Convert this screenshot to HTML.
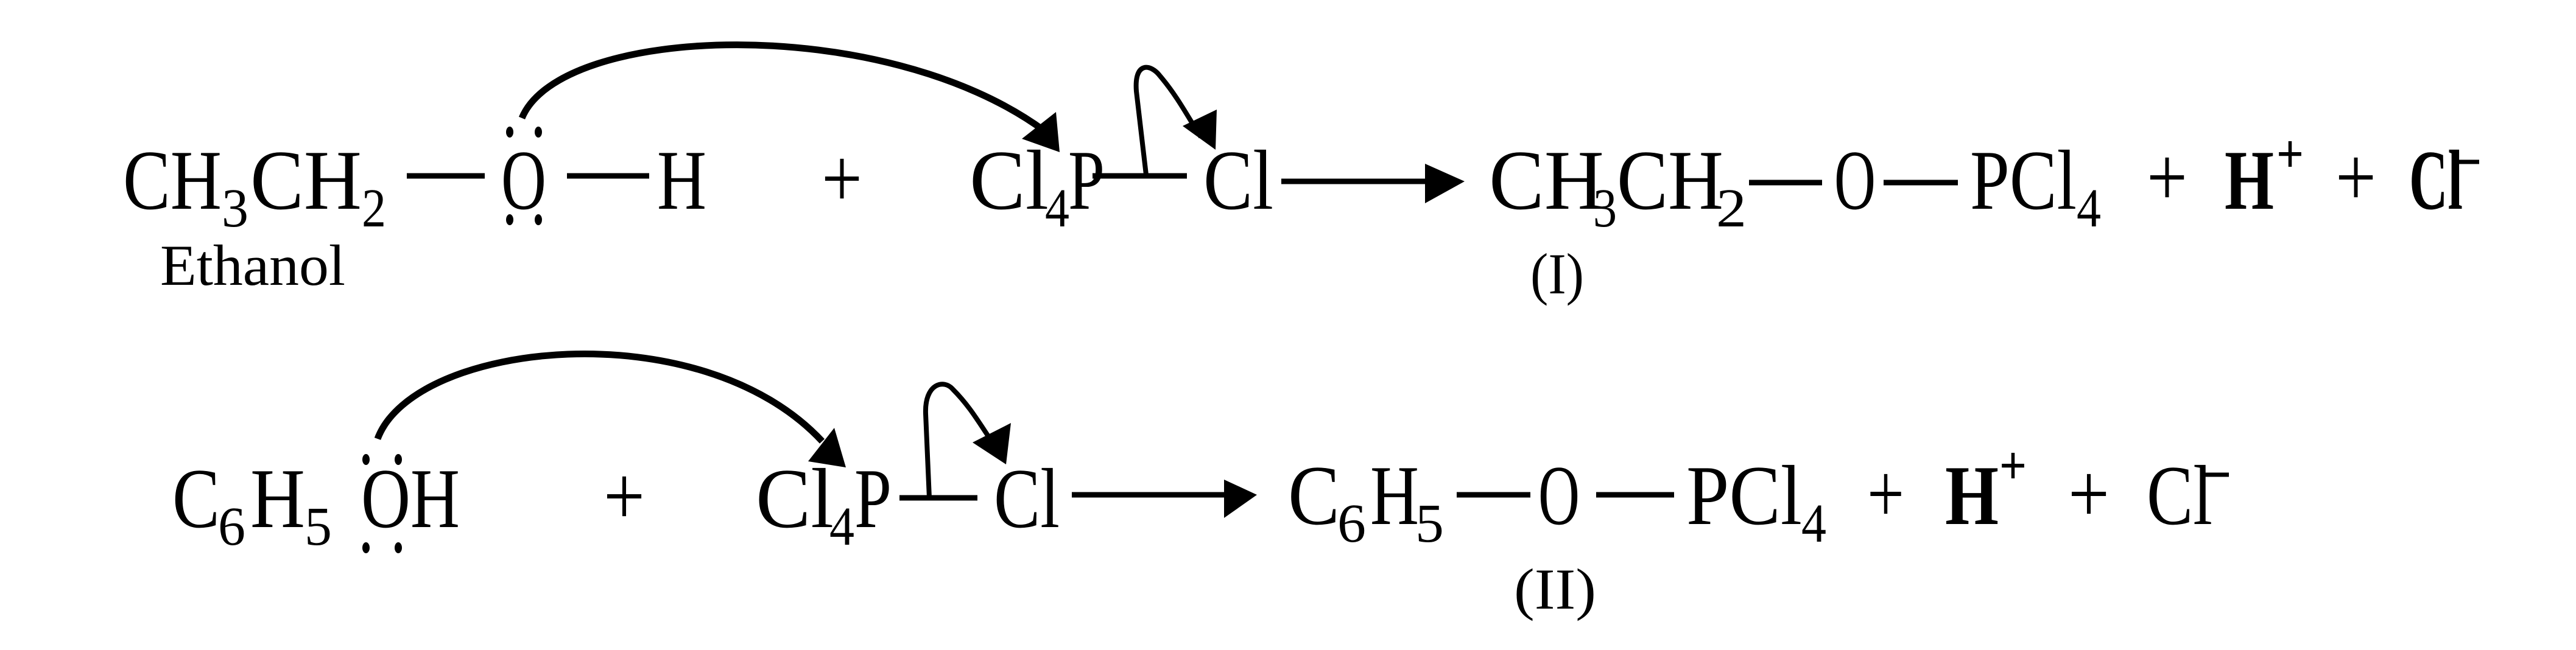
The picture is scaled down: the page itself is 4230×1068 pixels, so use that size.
<!DOCTYPE html>
<html><head><meta charset="utf-8"><style>
html,body{margin:0;padding:0;background:#fff;}
svg{display:block;}
text{font-family:"Liberation Serif",serif;fill:#000;}
</style></head><body>
<svg width="4230" height="1068" viewBox="0 0 4230 1068" xmlns="http://www.w3.org/2000/svg">
<g font-size="140">
<!-- Row 1 -->
<text x="202" y="343" textLength="162" lengthAdjust="spacingAndGlyphs">CH</text>
<text x="364" y="372" font-size="90" textLength="44" lengthAdjust="spacingAndGlyphs">3</text>
<text x="411" y="343" textLength="183" lengthAdjust="spacingAndGlyphs">CH</text>
<text x="594" y="372" font-size="90" textLength="40" lengthAdjust="spacingAndGlyphs">2</text>
<text x="823" y="343" textLength="74" lengthAdjust="spacingAndGlyphs">O</text>
<text x="1079" y="343" textLength="81" lengthAdjust="spacingAndGlyphs">H</text>
<text x="1349" y="340" textLength="67" lengthAdjust="spacingAndGlyphs">+</text>
<text x="1592" y="343" textLength="130" lengthAdjust="spacingAndGlyphs">Cl</text>
<text x="1716" y="372" font-size="90" textLength="40" lengthAdjust="spacingAndGlyphs">4</text>
<text x="1754" y="343" textLength="60" lengthAdjust="spacingAndGlyphs">P</text>
<text x="1976" y="343" textLength="115" lengthAdjust="spacingAndGlyphs">Cl</text>
<text x="263" y="468" font-size="95" textLength="304" lengthAdjust="spacingAndGlyphs">Ethanol</text>

<text x="2445" y="343" textLength="189" lengthAdjust="spacingAndGlyphs">CH</text>
<text x="2616" y="372" font-size="90" textLength="39" lengthAdjust="spacingAndGlyphs">3</text>
<text x="2655" y="343" textLength="175" lengthAdjust="spacingAndGlyphs">CH</text>
<text x="2818" y="372" font-size="90" textLength="50" lengthAdjust="spacingAndGlyphs">2</text>
<text x="3012" y="343" textLength="68" lengthAdjust="spacingAndGlyphs">O</text>
<text x="3235" y="343" textLength="175" lengthAdjust="spacingAndGlyphs">PCl</text>
<text x="3410" y="372" font-size="90" textLength="40" lengthAdjust="spacingAndGlyphs">4</text>
<text x="3525" y="338" textLength="67" lengthAdjust="spacingAndGlyphs">+</text>
<text x="3653" y="343" textLength="81" lengthAdjust="spacingAndGlyphs" font-weight="bold">H</text>
<text x="3738" y="283" font-size="90" textLength="45" lengthAdjust="spacingAndGlyphs" font-weight="bold">+</text>
<text x="3835" y="338" textLength="67" lengthAdjust="spacingAndGlyphs">+</text>
<text x="3956" y="343" textLength="88" lengthAdjust="spacingAndGlyphs" font-weight="bold">Cl</text>
<text x="2513" y="482" font-size="95" textLength="88" lengthAdjust="spacingAndGlyphs">(I)</text>

<!-- Row 2 -->
<text x="283" y="866" textLength="78" lengthAdjust="spacingAndGlyphs">C</text>
<text x="358" y="895" font-size="90" textLength="45" lengthAdjust="spacingAndGlyphs">6</text>
<text x="411" y="866" textLength="90" lengthAdjust="spacingAndGlyphs">H</text>
<text x="500" y="895" font-size="90" textLength="45" lengthAdjust="spacingAndGlyphs">5</text>
<text x="593" y="866" textLength="162" lengthAdjust="spacingAndGlyphs">OH</text>
<text x="991" y="862" textLength="68" lengthAdjust="spacingAndGlyphs">+</text>
<text x="1241" y="866" textLength="128" lengthAdjust="spacingAndGlyphs">Cl</text>
<text x="1362" y="895" font-size="90" textLength="41" lengthAdjust="spacingAndGlyphs">4</text>
<text x="1403" y="866" textLength="61" lengthAdjust="spacingAndGlyphs">P</text>
<text x="1632" y="866" textLength="108" lengthAdjust="spacingAndGlyphs">Cl</text>

<text x="2115" y="861" textLength="85" lengthAdjust="spacingAndGlyphs">C</text>
<text x="2196" y="890" font-size="90" textLength="47" lengthAdjust="spacingAndGlyphs">6</text>
<text x="2250" y="861" textLength="80" lengthAdjust="spacingAndGlyphs">H</text>
<text x="2324" y="890" font-size="90" textLength="47" lengthAdjust="spacingAndGlyphs">5</text>
<text x="2526" y="861" textLength="68" lengthAdjust="spacingAndGlyphs">O</text>
<text x="2769" y="861" textLength="190" lengthAdjust="spacingAndGlyphs">PCl</text>
<text x="2958" y="890" font-size="90" textLength="41" lengthAdjust="spacingAndGlyphs">4</text>
<text x="3066" y="858" textLength="61" lengthAdjust="spacingAndGlyphs">+</text>
<text x="3194" y="861" textLength="88" lengthAdjust="spacingAndGlyphs" font-weight="bold">H</text>
<text x="3283" y="795" font-size="90" textLength="45" lengthAdjust="spacingAndGlyphs" font-weight="bold">+</text>
<text x="3396" y="858" textLength="68" lengthAdjust="spacingAndGlyphs">+</text>
<text x="3525" y="861" textLength="108" lengthAdjust="spacingAndGlyphs">Cl</text>
<text x="2486" y="1000" font-size="95" textLength="135" lengthAdjust="spacingAndGlyphs">(II)</text>
</g>

<g stroke="#000" stroke-width="9" fill="none">
<line x1="668" y1="289" x2="796" y2="289"/>
<line x1="931" y1="289" x2="1066" y2="289"/>
<line x1="1794" y1="289" x2="1949" y2="289"/>
<line x1="2104" y1="298" x2="2350" y2="298"/>
<line x1="2872" y1="300" x2="2992" y2="300"/>
<line x1="3093" y1="300" x2="3215" y2="300"/>
<line x1="4028" y1="266" x2="4071" y2="266" stroke-width="7"/>
<line x1="1477" y1="818" x2="1605" y2="818"/>
<line x1="1760" y1="813" x2="2020" y2="813"/>
<line x1="2392" y1="813" x2="2513" y2="813"/>
<line x1="2621" y1="813" x2="2749" y2="813"/>
<line x1="3615" y1="780" x2="3660" y2="780" stroke-width="7"/>
<path d="M857,194 C920,40 1450,20 1715,215" stroke-width="11"/>
<path d="M1882,287 L1866,150 C1862,100 1890,105 1905,125 C1935,160 1955,200 1972,225" stroke-width="8"/>
<path d="M620,721 C680,560 1150,510 1350,725" stroke-width="11"/>
<path d="M1526,818 L1520,680 C1518,630 1550,622 1565,640 C1590,665 1605,690 1625,720" stroke-width="8"/>
</g>
<g fill="#000">
<polygon points="2340,269 2405,298 2340,334"/>
<polygon points="2010,788 2064,813 2010,851"/>
<polygon points="1740,250 1678,228 1734,184"/>
<polygon points="1996,246 1942,207 1998,180"/>
<polygon points="1389,768 1327,758 1370,703"/>
<polygon points="1652,763 1597,727 1660,695"/>
<ellipse cx="837" cy="217" rx="6" ry="9"/><ellipse cx="884" cy="217" rx="6" ry="9"/>
<ellipse cx="837" cy="361" rx="6" ry="9"/><ellipse cx="884" cy="361" rx="6" ry="9"/>
<ellipse cx="601" cy="755" rx="6" ry="9"/><ellipse cx="654" cy="755" rx="6" ry="9"/>
<ellipse cx="601" cy="900" rx="6" ry="9"/><ellipse cx="654" cy="900" rx="6" ry="9"/>
</g>
</svg>
</body></html>
